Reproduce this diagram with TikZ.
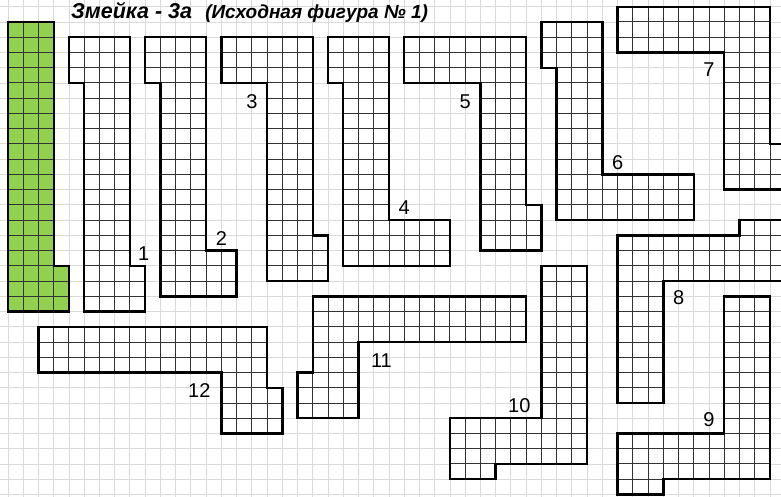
\documentclass[tikz,border=0pt]{standalone}
\usepackage{fontspec}
\setmainfont{Liberation Sans}
\definecolor{snakegreen}{HTML}{92D050}
\definecolor{bggrid}{HTML}{DADADA}
\tikzset{
  outline/.style={draw=black,line width=2.4pt,line join=miter},
  innerline/.style={draw=black!80,line width=1pt},
  bgline/.style={draw=bggrid,line width=0.9pt},
  numlabel/.style={inner sep=0pt,font=\fontsize{20}{20}\selectfont},
}
\newcommand\drawpiece[2]{%
  \begin{scope}
    \clip #1;
    \fill[#2] #1;
    \foreach \i in {-1,...,52} \draw[innerline] (\i,-2)--(\i,33);
    \foreach \j in {-2,...,33} \draw[innerline] (-1,\j)--(53,\j);
  \end{scope}
  \draw[outline] #1;
}
\def\pgreen{(0,0)--(3,0)--(3,16)--(4,16)--(4,19)--(0,19)--cycle}
\def\pone{(4,1)--(8,1)--(8,16)--(9,16)--(9,19)--(5,19)--(5,4)--(4,4)--cycle}
\def\ptwo{(9,1)--(13,1)--(13,15)--(15,15)--(15,18)--(10,18)--(10,4)--(9,4)--cycle}
\def\pthree{(14,1)--(20,1)--(20,14)--(21,14)--(21,17)--(17,17)--(17,4)--(14,4)--cycle}
\def\pfour{(21,1)--(25,1)--(25,13)--(29,13)--(29,16)--(22,16)--(22,4)--(21,4)--cycle}
\def\pfive{(26,1)--(34,1)--(34,12)--(35,12)--(35,15)--(31,15)--(31,4)--(26,4)--cycle}
\def\psix{(35,0)--(39,0)--(39,10)--(45,10)--(45,13)--(36,13)--(36,3)--(35,3)--cycle}
\def\pseven{(40,-1)--(50,-1)--(50,8)--(51,8)--(51,11)--(47,11)--(47,2)--(40,2)--cycle}
\def\peight{(40,14)--(48,14)--(48,13)--(52,13)--(52,17)--(43,17)--(43,25)--(40,25)--cycle}
\def\pnine{(47,18)--(50,18)--(50,30)--(43,30)--(43,31)--(40,31)--(40,27)--(47,27)--cycle}
\def\pten{(35,16)--(38,16)--(38,29)--(32,29)--(32,30)--(29,30)--(29,26)--(35,26)--cycle}
\def\peleven{(20,18)--(34,18)--(34,21)--(23,21)--(23,26)--(19,26)--(19,23)--(20,23)--cycle}
\def\ptwelve{(2,20)--(17,20)--(17,24)--(18,24)--(18,27)--(14,27)--(14,23)--(2,23)--cycle}
\begin{document}
\begin{tikzpicture}[x=15.24pt,y=-15.24pt]
\useasboundingbox (-0.52493,-1.44357) rectangle (50.7218,31.1680);
\clip (-0.52493,-1.44357) rectangle (50.7218,31.1680);
\fill[white] (-0.52493,-1.44357) rectangle (50.7218,31.1680);
\foreach \i in {-1,...,51} \draw[bgline] (\i,-2)--(\i,32);
\foreach \j in {-2,...,32} \draw[bgline] (-1,\j)--(52,\j);
\drawpiece{\pgreen}{snakegreen}
\drawpiece{\pone}{white}
\drawpiece{\ptwo}{white}
\drawpiece{\pthree}{white}
\drawpiece{\pfour}{white}
\drawpiece{\pfive}{white}
\drawpiece{\psix}{white}
\drawpiece{\pseven}{white}
\drawpiece{\peight}{white}
\drawpiece{\pnine}{white}
\drawpiece{\pten}{white}
\drawpiece{\peleven}{white}
\drawpiece{\ptwelve}{white}
\node[numlabel] (n1) at (8.9,15.2) {1};
\node[numlabel] (n2) at (14.0,14.2) {2};
\node[numlabel] (n3) at (16.0,5.2) {3};
\node[numlabel] (n4) at (26.0,12.2) {4};
\node[numlabel] (n5) at (30.0,5.2) {5};
\node[numlabel] (n6) at (40.0,9.2) {6};
\node[numlabel] (n7) at (46.0,3.15) {7};
\node[numlabel] (n8) at (44.0,18.1) {8};
\node[numlabel] (n9) at (46.0,26.1) {9};
\node[numlabel] (n10) at (33.55,25.2) {10};
\node[numlabel] (n11) at (24.5,22.25) {11};
\node[numlabel] (n12) at (12.55,24.15) {12};
\node[anchor=base west,inner sep=0pt,font=\fontsize{21.5}{22}\selectfont\bfseries\itshape] (title) at (4.13,-0.26) {Змейка - 3а};
\node[anchor=base west,inner sep=0pt,font=\fontsize{19}{20}\selectfont\bfseries\itshape] (subtitle) at (12.93,-0.26) {(Исходная фигура № 1)};
\end{tikzpicture}
\end{document}
